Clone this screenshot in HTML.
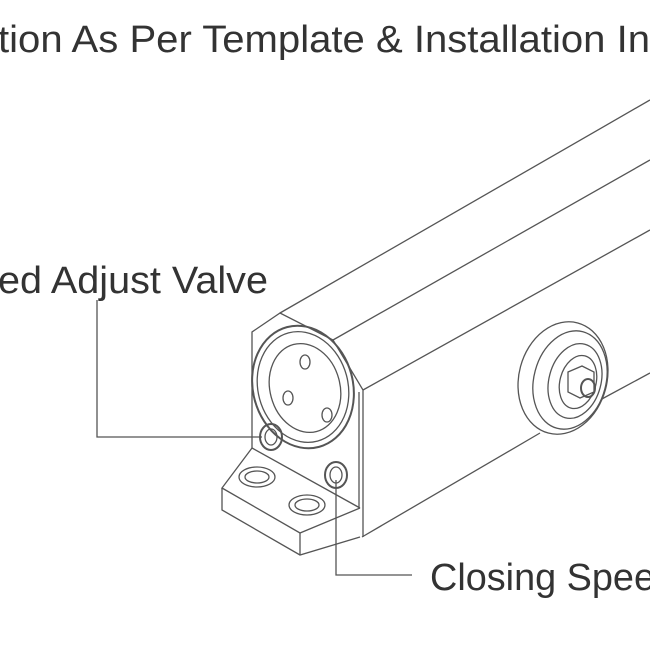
<!DOCTYPE html>
<html><head><style>html,body{margin:0;padding:0;background:#fff;width:650px;height:650px;overflow:hidden}</style></head>
<body>
<svg width="650" height="650" viewBox="0 0 650 650" xmlns="http://www.w3.org/2000/svg">
<g font-family="Liberation Sans, sans-serif" fill="#333" font-size="38">
<text x="-2" y="52" textLength="652" lengthAdjust="spacingAndGlyphs">tion As Per Template &amp; Installation In</text>
<text x="-2" y="293" textLength="270" lengthAdjust="spacingAndGlyphs">ed Adjust Valve</text>
<text x="430" y="590" textLength="225" lengthAdjust="spacingAndGlyphs">Closing Spee</text>
</g>
<g fill="none" stroke="#555" stroke-width="1.3">
<!-- body lines -->
<line x1="280" y1="313" x2="650" y2="100"/>
<line x1="333" y1="340" x2="650" y2="160"/>
<line x1="363" y1="390" x2="650" y2="230"/>
<line x1="362" y1="537" x2="540" y2="433"/>
<line x1="600" y1="400" x2="650" y2="373"/>
<!-- face -->
<polyline points="252,448 252,332 280,313 333,340 363,390 363,537"/>
<line x1="359" y1="392" x2="359" y2="508"/>
<ellipse cx="303" cy="387" rx="50" ry="62" transform="rotate(-15 303 387)" stroke-width="2"/>
<ellipse cx="303" cy="387" rx="45" ry="56" transform="rotate(-15 303 387)"/>
<ellipse cx="305" cy="388" rx="35" ry="45" transform="rotate(-15 305 388)"/>
<ellipse cx="305" cy="362" rx="5" ry="7"/>
<ellipse cx="288" cy="398" rx="5" ry="7"/>
<ellipse cx="327" cy="415" rx="5" ry="7"/>
<ellipse cx="271" cy="437" rx="11" ry="13" stroke-width="2"/>
<ellipse cx="271" cy="437" rx="6" ry="8"/>
<ellipse cx="336" cy="475" rx="11" ry="13" stroke-width="2"/>
<ellipse cx="336" cy="475" rx="6" ry="8"/>
<!-- base -->
<polyline points="252,448 222,488 300,533 360,508"/>
<line x1="252" y1="448" x2="360" y2="508"/>
<polyline points="222,488 222,510 300,555 360,537"/>
<line x1="300" y1="533" x2="300" y2="555"/>
<ellipse cx="257" cy="477" rx="18" ry="10"/>
<ellipse cx="257" cy="477" rx="12" ry="6"/>
<ellipse cx="307" cy="505" rx="18" ry="10"/>
<ellipse cx="307" cy="505" rx="12" ry="6"/>
<!-- roller -->
<ellipse cx="563" cy="378" rx="44" ry="57" transform="rotate(15 563 378)" fill="#fff"/>
<ellipse cx="570" cy="380" rx="36" ry="50" transform="rotate(15 570 380)"/>
<ellipse cx="575" cy="381" rx="26" ry="38" transform="rotate(15 575 381)"/>
<ellipse cx="578" cy="382" rx="18" ry="27" transform="rotate(15 578 382)"/>
<polygon points="568,372 582,366 594,372 594,392 580,398 568,392" fill="#fff"/>
<ellipse cx="588" cy="388" rx="7" ry="9" stroke-width="2"/>
<!-- leaders -->
<polyline points="97,300 97,437 262,437"/>
<polyline points="336,480 336,575 412,575"/>
</g>
</svg>
</body></html>
